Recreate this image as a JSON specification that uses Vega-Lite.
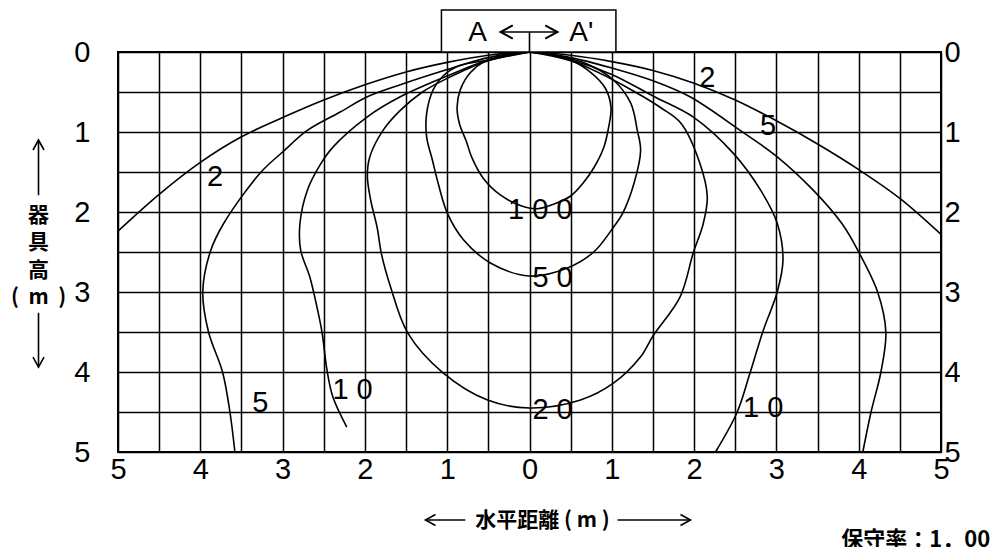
{
  "$schema": "https://vega.github.io/schema/vega-lite/v6.json",
  "width": 823,
  "height": 400,
  "autosize": "none",
  "padding": {"left": 118, "top": 52, "right": 53, "bottom": 95},
  "background": "white",
  "config": {
    "view": {"stroke": "black", "strokeWidth": 2},
    "font": "Liberation Sans, sans-serif"
  },
  "title": {
    "text": "保守率：1．00",
    "orient": "bottom",
    "anchor": "end",
    "font": "Noto Sans CJK JP",
    "fontWeight": "bold",
    "fontSize": 22,
    "color": "black",
    "offset": 0,
    "dx": 30,
    "dy": 0
  },
  "datasets": {
    "curves": [
      {"c": "2", "i": 1, "x": -5, "y": 2.24}, {"c": "2", "i": 2, "x": -4.5, "y": 1.78}, {"c": "2", "i": 3, "x": -4, "y": 1.38}, {"c": "2", "i": 4, "x": -3.5, "y": 1.06}, {"c": "2", "i": 5, "x": -3, "y": 0.82}, {"c": "2", "i": 6, "x": -2.5, "y": 0.6}, {"c": "2", "i": 7, "x": -2, "y": 0.41}, {"c": "2", "i": 8, "x": -1.5, "y": 0.25}, {"c": "2", "i": 9, "x": -1, "y": 0.13}, {"c": "2", "i": 10, "x": -0.5, "y": 0.04}, {"c": "2", "i": 11, "x": 0, "y": 0}, {"c": "2", "i": 12, "x": 0.5, "y": 0.04}, {"c": "2", "i": 13, "x": 1, "y": 0.12}, {"c": "2", "i": 14, "x": 1.5, "y": 0.23}, {"c": "2", "i": 15, "x": 2, "y": 0.39}, {"c": "2", "i": 16, "x": 2.5, "y": 0.6}, {"c": "2", "i": 17, "x": 3, "y": 0.86}, {"c": "2", "i": 18, "x": 3.5, "y": 1.15}, {"c": "2", "i": 19, "x": 4, "y": 1.47}, {"c": "2", "i": 20, "x": 4.5, "y": 1.83}, {"c": "2", "i": 21, "x": 5, "y": 2.28},

      {"c": "5", "i": 1, "x": -3.58, "y": 5.0}, {"c": "5", "i": 2, "x": -3.64, "y": 4.5}, {"c": "5", "i": 3, "x": -3.73, "y": 4.0}, {"c": "5", "i": 4, "x": -3.9, "y": 3.5}, {"c": "5", "i": 5, "x": -3.97, "y": 3.0}, {"c": "5", "i": 6, "x": -3.88, "y": 2.5}, {"c": "5", "i": 7, "x": -3.72, "y": 2.15}, {"c": "5", "i": 8, "x": -3.27, "y": 1.51}, {"c": "5", "i": 9, "x": -3.0, "y": 1.25}, {"c": "5", "i": 10, "x": -2.7, "y": 0.98}, {"c": "5", "i": 11, "x": -2.3, "y": 0.75}, {"c": "5", "i": 12, "x": -1.97, "y": 0.56}, {"c": "5", "i": 13, "x": -1.57, "y": 0.41}, {"c": "5", "i": 14, "x": -1, "y": 0.22}, {"c": "5", "i": 15, "x": -0.5, "y": 0.07}, {"c": "5", "i": 16, "x": 0, "y": 0}, {"c": "5", "i": 17, "x": 0.5, "y": 0.07}, {"c": "5", "i": 18, "x": 1, "y": 0.2}, {"c": "5", "i": 19, "x": 1.5, "y": 0.36}, {"c": "5", "i": 20, "x": 1.95, "y": 0.56}, {"c": "5", "i": 21, "x": 2.56, "y": 0.98}, {"c": "5", "i": 22, "x": 3.01, "y": 1.31}, {"c": "5", "i": 23, "x": 3.45, "y": 1.73}, {"c": "5", "i": 24, "x": 3.8, "y": 2.15}, {"c": "5", "i": 25, "x": 4.0, "y": 2.5}, {"c": "5", "i": 26, "x": 4.23, "y": 3.0}, {"c": "5", "i": 27, "x": 4.33, "y": 3.5}, {"c": "5", "i": 28, "x": 4.27, "y": 4.0}, {"c": "5", "i": 29, "x": 4.15, "y": 4.5}, {"c": "5", "i": 30, "x": 4.05, "y": 5.0},

      {"c": "10", "i": 1, "x": -2.22, "y": 4.69}, {"c": "10", "i": 2, "x": -2.39, "y": 4.31}, {"c": "10", "i": 3, "x": -2.46, "y": 3.98}, {"c": "10", "i": 4, "x": -2.52, "y": 3.51}, {"c": "10", "i": 5, "x": -2.58, "y": 3.2}, {"c": "10", "i": 6, "x": -2.67, "y": 2.81}, {"c": "10", "i": 7, "x": -2.78, "y": 2.48}, {"c": "10", "i": 8, "x": -2.79, "y": 2.15}, {"c": "10", "i": 9, "x": -2.7, "y": 1.73}, {"c": "10", "i": 10, "x": -2.55, "y": 1.42}, {"c": "10", "i": 11, "x": -2.38, "y": 1.18}, {"c": "10", "i": 12, "x": -1.97, "y": 0.81}, {"c": "10", "i": 13, "x": -1.57, "y": 0.56}, {"c": "10", "i": 14, "x": -1, "y": 0.3}, {"c": "10", "i": 15, "x": -0.5, "y": 0.1}, {"c": "10", "i": 16, "x": 0, "y": 0}, {"c": "10", "i": 17, "x": 0.5, "y": 0.1}, {"c": "10", "i": 18, "x": 1, "y": 0.28}, {"c": "10", "i": 19, "x": 1.5, "y": 0.55}, {"c": "10", "i": 20, "x": 2.0, "y": 0.82}, {"c": "10", "i": 21, "x": 2.48, "y": 1.27}, {"c": "10", "i": 22, "x": 2.81, "y": 1.73}, {"c": "10", "i": 23, "x": 3.01, "y": 2.14}, {"c": "10", "i": 24, "x": 3.08, "y": 2.6}, {"c": "10", "i": 25, "x": 3.01, "y": 3.0}, {"c": "10", "i": 26, "x": 2.84, "y": 3.48}, {"c": "10", "i": 27, "x": 2.68, "y": 4.01}, {"c": "10", "i": 28, "x": 2.52, "y": 4.51}, {"c": "10", "i": 29, "x": 2.26, "y": 5.0},

      {"c": "20", "i": 1, "x": 0, "y": 0}, {"c": "20", "i": 2, "x": -0.5, "y": 0.11}, {"c": "20", "i": 3, "x": -1, "y": 0.33}, {"c": "20", "i": 4, "x": -1.3, "y": 0.5}, {"c": "20", "i": 5, "x": -1.57, "y": 0.73}, {"c": "20", "i": 6, "x": -1.78, "y": 0.98}, {"c": "20", "i": 7, "x": -1.94, "y": 1.31}, {"c": "20", "i": 8, "x": -1.97, "y": 1.55}, {"c": "20", "i": 9, "x": -1.93, "y": 1.85}, {"c": "20", "i": 10, "x": -1.85, "y": 2.2}, {"c": "20", "i": 11, "x": -1.8, "y": 2.52}, {"c": "20", "i": 12, "x": -1.69, "y": 2.93}, {"c": "20", "i": 13, "x": -1.48, "y": 3.51}, {"c": "20", "i": 14, "x": -1.05, "y": 4.01}, {"c": "20", "i": 15, "x": -0.51, "y": 4.35}, {"c": "20", "i": 16, "x": 0, "y": 4.45}, {"c": "20", "i": 17, "x": 0.62, "y": 4.35}, {"c": "20", "i": 18, "x": 1.02, "y": 4.14}, {"c": "20", "i": 19, "x": 1.35, "y": 3.81}, {"c": "20", "i": 20, "x": 1.5, "y": 3.55}, {"c": "20", "i": 21, "x": 1.83, "y": 3.06}, {"c": "20", "i": 22, "x": 1.99, "y": 2.51}, {"c": "20", "i": 23, "x": 2.11, "y": 2.15}, {"c": "20", "i": 24, "x": 2.16, "y": 1.81}, {"c": "20", "i": 25, "x": 2.07, "y": 1.39}, {"c": "20", "i": 26, "x": 1.84, "y": 0.89}, {"c": "20", "i": 27, "x": 1.6, "y": 0.7}, {"c": "20", "i": 28, "x": 1.35, "y": 0.54}, {"c": "20", "i": 29, "x": 1, "y": 0.34}, {"c": "20", "i": 30, "x": 0.5, "y": 0.11}, {"c": "20", "i": 31, "x": 0, "y": 0},

      {"c": "50", "i": 1, "x": 0, "y": 0}, {"c": "50", "i": 2, "x": -0.5, "y": 0.1}, {"c": "50", "i": 3, "x": -0.85, "y": 0.17}, {"c": "50", "i": 4, "x": -1.05, "y": 0.3}, {"c": "50", "i": 5, "x": -1.17, "y": 0.47}, {"c": "50", "i": 6, "x": -1.25, "y": 0.77}, {"c": "50", "i": 7, "x": -1.25, "y": 1.06}, {"c": "50", "i": 8, "x": -1.18, "y": 1.35}, {"c": "50", "i": 9, "x": -1.11, "y": 1.64}, {"c": "50", "i": 10, "x": -1.0, "y": 2.01}, {"c": "50", "i": 11, "x": -0.8, "y": 2.35}, {"c": "50", "i": 12, "x": -0.47, "y": 2.64}, {"c": "50", "i": 13, "x": 0, "y": 2.8}, {"c": "50", "i": 14, "x": 0.46, "y": 2.7}, {"c": "50", "i": 15, "x": 0.78, "y": 2.5}, {"c": "50", "i": 16, "x": 1.02, "y": 2.19}, {"c": "50", "i": 17, "x": 1.13, "y": 2.02}, {"c": "50", "i": 18, "x": 1.27, "y": 1.64}, {"c": "50", "i": 19, "x": 1.35, "y": 1.23}, {"c": "50", "i": 20, "x": 1.31, "y": 0.98}, {"c": "50", "i": 21, "x": 1.23, "y": 0.64}, {"c": "50", "i": 22, "x": 1.02, "y": 0.35}, {"c": "50", "i": 23, "x": 0.7, "y": 0.15}, {"c": "50", "i": 24, "x": 0.35, "y": 0.05}, {"c": "50", "i": 25, "x": 0, "y": 0},

      {"c": "100", "i": 1, "x": 0, "y": 0}, {"c": "100", "i": 2, "x": -0.3, "y": 0.04}, {"c": "100", "i": 3, "x": -0.55, "y": 0.12}, {"c": "100", "i": 4, "x": -0.72, "y": 0.26}, {"c": "100", "i": 5, "x": -0.84, "y": 0.47}, {"c": "100", "i": 6, "x": -0.88, "y": 0.69}, {"c": "100", "i": 7, "x": -0.85, "y": 0.9}, {"c": "100", "i": 8, "x": -0.77, "y": 1.11}, {"c": "100", "i": 9, "x": -0.7, "y": 1.32}, {"c": "100", "i": 10, "x": -0.56, "y": 1.58}, {"c": "100", "i": 11, "x": -0.35, "y": 1.79}, {"c": "100", "i": 12, "x": -0.11, "y": 1.92}, {"c": "100", "i": 13, "x": 0.09, "y": 1.96}, {"c": "100", "i": 14, "x": 0.3, "y": 1.9}, {"c": "100", "i": 15, "x": 0.5, "y": 1.8}, {"c": "100", "i": 16, "x": 0.65, "y": 1.64}, {"c": "100", "i": 17, "x": 0.78, "y": 1.45}, {"c": "100", "i": 18, "x": 0.9, "y": 1.2}, {"c": "100", "i": 19, "x": 0.96, "y": 0.95}, {"c": "100", "i": 20, "x": 0.99, "y": 0.69}, {"c": "100", "i": 21, "x": 0.92, "y": 0.45}, {"c": "100", "i": 22, "x": 0.75, "y": 0.26}, {"c": "100", "i": 23, "x": 0.5, "y": 0.1}, {"c": "100", "i": 24, "x": 0.25, "y": 0.03}, {"c": "100", "i": 25, "x": 0, "y": 0}
    ],
    "labels": [
      {"t": "2", "x": 2.16, "y": 0.33},
      {"t": "5", "x": 2.9, "y": 0.93},
      {"t": "2", "x": -3.82, "y": 1.56},
      {"t": "1 0 0", "x": 0.13, "y": 1.975},
      {"t": "5 0", "x": 0.28, "y": 2.83},
      {"t": "2 0", "x": 0.28, "y": 4.47},
      {"t": "5", "x": -3.27, "y": 4.39},
      {"t": "1 0", "x": -2.15, "y": 4.23},
      {"t": "1 0", "x": 2.84, "y": 4.45}
    ],
    "box": [{"x1": -1.07, "x2": 1.05, "y1": -0.525, "y2": 0}],
    "boxtext": [
      {"t": "A", "x": -0.63, "y": -0.24},
      {"t": "A'", "x": 0.63, "y": -0.24}
    ],
    "shafts": [
      {"k": "box", "x1": -0.352, "x2": 0.34, "y1": -0.25, "y2": -0.25},
      {"k": "stem", "x1": 0, "x2": 0, "y1": -0.25, "y2": 0},
      {"k": "up", "x1": -5.966, "x2": -5.966, "y1": 1.1, "y2": 1.79},
      {"k": "down", "x1": -5.966, "x2": -5.966, "y1": 3.26, "y2": 3.94},
      {"k": "left", "x1": -1.264, "x2": -0.78, "y1": 5.85, "y2": 5.85},
      {"k": "right", "x1": 1.07, "x2": 1.956, "y1": 5.85, "y2": 5.85}
    ],
    "heads": [
      {"x": -5.966, "y": 1.1, "d": "up"},
      {"x": -5.966, "y": 3.94, "d": "down"},
      {"x": -1.264, "y": 5.85, "d": "left"},
      {"x": 1.956, "y": 5.85, "d": "right"}
    ],
    "boxheads": [
      {"x": -0.352, "y": -0.25, "d": "left"},
      {"x": 0.34, "y": -0.25, "d": "right"}
    ]
  },
  "resolve": {"axis": {"y": "independent"}},
  "layer": [
    {
      "data": {"name": "curves"},
      "mark": {"type": "line", "interpolate": "catmull-rom", "stroke": "black", "strokeWidth": 1.6},
      "encoding": {
        "x": {
          "field": "x", "type": "quantitative",
          "scale": {"domain": [-5, 5], "nice": false, "zero": false},
          "axis": {
            "orient": "bottom",
            "values": [-5, -4.5, -4, -3.5, -3, -2.5, -2, -1.5, -1, -0.5, 0, 0.5, 1, 1.5, 2, 2.5, 3, 3.5, 4, 4.5, 5],
            "labelExpr": "datum.value % 1 == 0 ? format(abs(datum.value), 'd') : ''",
            "grid": true, "gridColor": "black", "gridOpacity": 1, "gridWidth": 1.5,
            "ticks": false, "domain": false,
            "labelFont": "Liberation Sans, sans-serif",
            "labelFontSize": 29, "labelColor": "black", "labelPadding": 3,
            "labelOverlap": false, "labelFlush": false,
            "title": "水平距離\u00a0(\u00a0m\u00a0)",
            "titleFont": "Noto Sans CJK JP", "titleFontWeight": "bold", "titleFontSize": 21,
            "titleColor": "black", "titleX": 424, "titleY": 68, "titleAlign": "center", "titleBaseline": "middle"
          }
        },
        "y": {
          "field": "y", "type": "quantitative",
          "scale": {"domain": [0, 5], "reverse": true, "nice": false, "zero": false},
          "axis": {
            "orient": "left",
            "values": [0, 0.5, 1, 1.5, 2, 2.5, 3, 3.5, 4, 4.5, 5],
            "labelExpr": "datum.value % 1 == 0 ? format(datum.value, 'd') : ''",
            "grid": true, "gridColor": "black", "gridOpacity": 1, "gridWidth": 1.5,
            "ticks": false, "domain": false,
            "labelFont": "Liberation Sans, sans-serif",
            "labelFontSize": 29, "labelColor": "black", "labelPadding": 28,
            "labelOverlap": false, "labelFlush": false,
            "title": ["器", "具", "高", "(\u00a0\u00a0m\u00a0\u00a0)"],
            "titleFont": "Noto Sans CJK JP", "titleFontWeight": "bold", "titleFontSize": 21,
            "titleColor": "black", "titleAngle": 0, "titleX": -80, "titleY": 152,
            "titleAlign": "center", "titleBaseline": "top", "titleLineHeight": 27.5
          }
        },
        "detail": {"field": "c"},
        "order": {"field": "i", "type": "quantitative"}
      }
    },
    {
      "data": {"name": "labels"},
      "mark": {"type": "text", "fontSize": 29, "color": "black", "align": "center", "baseline": "middle", "font": "Liberation Sans, sans-serif"},
      "encoding": {
        "x": {"field": "x", "type": "quantitative"},
        "y": {
          "field": "y", "type": "quantitative",
          "axis": {
            "orient": "right",
            "values": [0, 1, 2, 3, 4, 5],
            "grid": false, "ticks": false, "domain": false,
            "labelFont": "Liberation Sans, sans-serif",
            "labelFontSize": 29, "labelColor": "black", "labelPadding": 3,
            "labelOverlap": false, "labelFlush": false, "title": null
          }
        },
        "text": {"field": "t"}
      }
    },
    {
      "data": {"name": "box"},
      "mark": {"type": "rect", "fill": "white", "stroke": "black", "strokeWidth": 1.5},
      "encoding": {
        "x": {"field": "x1", "type": "quantitative"},
        "x2": {"field": "x2"},
        "y": {"field": "y1", "type": "quantitative", "axis": null},
        "y2": {"field": "y2"}
      }
    },
    {
      "data": {"name": "shafts"},
      "mark": {"type": "rule", "stroke": "black", "strokeWidth": 1.6},
      "encoding": {
        "x": {"field": "x1", "type": "quantitative"},
        "x2": {"field": "x2"},
        "y": {"field": "y1", "type": "quantitative", "axis": null},
        "y2": {"field": "y2"},
        "detail": {"field": "k"}
      }
    },
    {
      "data": {"name": "heads"},
      "mark": {"type": "point", "filled": false, "stroke": "black", "strokeWidth": 1.6, "opacity": 1, "size": 100},
      "encoding": {
        "x": {"field": "x", "type": "quantitative"},
        "y": {"field": "y", "type": "quantitative", "axis": null},
        "shape": {
          "field": "d", "type": "nominal", "legend": null,
          "scale": {
            "domain": ["up", "down", "left", "right"],
            "range": ["M-1.1,2L0,0L1.1,2", "M-1.1,-2L0,0L1.1,-2", "M2,-1.1L0,0L2,1.1", "M-2,-1.1L0,0L-2,1.1"]
          }
        }
      }
    },
    {
      "data": {"name": "boxheads"},
      "mark": {"type": "point", "filled": false, "stroke": "black", "strokeWidth": 2, "opacity": 1, "size": 150},
      "encoding": {
        "x": {"field": "x", "type": "quantitative"},
        "y": {"field": "y", "type": "quantitative", "axis": null},
        "shape": {"field": "d", "type": "nominal", "legend": null}
      }
    },
    {
      "data": {"name": "boxtext"},
      "mark": {"type": "text", "fontSize": 28, "color": "black", "align": "center", "baseline": "middle", "font": "Liberation Sans, sans-serif"},
      "encoding": {
        "x": {"field": "x", "type": "quantitative"},
        "y": {"field": "y", "type": "quantitative", "axis": null},
        "text": {"field": "t"}
      }
    }
  ]
}
